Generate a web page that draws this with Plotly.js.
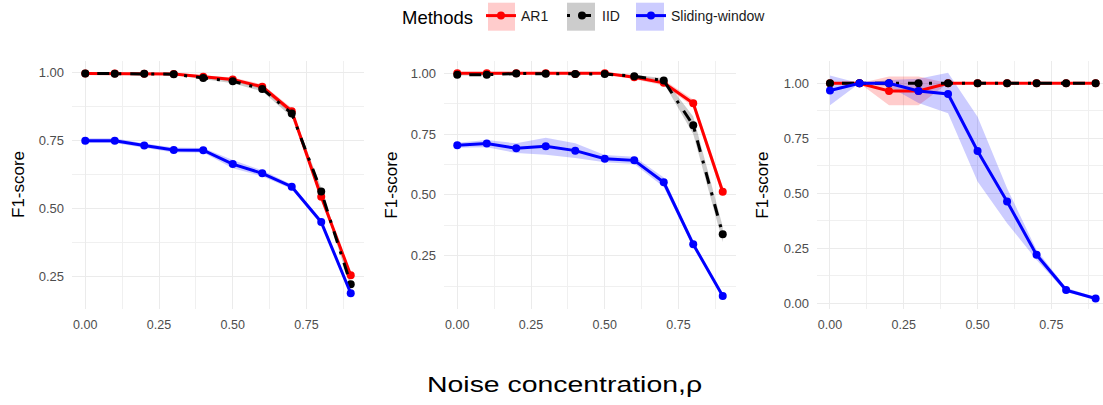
<!DOCTYPE html>
<html>
<head>
<meta charset="utf-8">
<script src="https://cdn.plot.ly/plotly-3.0.1.min.js"></script>
<style>html,body{margin:0;padding:0;background:#fff;}#chart{width:1103px;height:405px;}</style>
</head>
<body>
<div id="chart"></div>
<script>
// ---- data ----
const rho = [0, 0.1, 0.2, 0.3, 0.4, 0.5, 0.6, 0.7, 0.8, 0.9];
const methods = ["AR1", "IID", "Sliding-window"];
const xTickVals = [0, 0.25, 0.5, 0.75];
const xMinorVals = [0.125, 0.375, 0.625, 0.875];
const yTickVals = [0, 0.25, 0.5, 0.75, 1.0];
const yMinorVals = [0.125, 0.375, 0.625, 0.875];

// panel 1
const p1_ar1    = [0.996, 0.996, 0.995, 0.994, 0.984, 0.974, 0.947, 0.857, 0.543, 0.255];
const p1_ar1_lo = [0.993, 0.993, 0.992, 0.991, 0.979, 0.967, 0.938, 0.845, 0.528, 0.245];
const p1_ar1_hi = [0.999, 0.999, 0.998, 0.997, 0.989, 0.981, 0.956, 0.869, 0.558, 0.265];
const p1_iid    = [0.996, 0.995, 0.995, 0.993, 0.979, 0.967, 0.939, 0.849, 0.562, 0.222];
const p1_iid_lo = [0.993, 0.992, 0.992, 0.990, 0.974, 0.960, 0.930, 0.836, 0.548, 0.212];
const p1_iid_hi = [0.999, 0.998, 0.998, 0.996, 0.984, 0.974, 0.948, 0.862, 0.576, 0.232];
const p1_sw     = [0.749, 0.749, 0.731, 0.715, 0.714, 0.663, 0.629, 0.580, 0.450, 0.189];
const p1_sw_lo  = [0.740, 0.740, 0.723, 0.706, 0.706, 0.648, 0.618, 0.572, 0.440, 0.184];
const p1_sw_hi  = [0.758, 0.758, 0.739, 0.724, 0.722, 0.678, 0.640, 0.588, 0.460, 0.194];

// panel 2
const p2_ar1    = [1.000, 1.000, 1.000, 1.000, 0.997, 1.000, 0.984, 0.961, 0.877, 0.513];
const p2_ar1_lo = [0.998, 0.998, 0.998, 0.998, 0.994, 0.998, 0.976, 0.950, 0.862, 0.493];
const p2_ar1_hi = [1.000, 1.000, 1.000, 1.000, 1.000, 1.000, 0.992, 0.972, 0.892, 0.533];
const p2_iid    = [0.994, 0.994, 0.999, 0.998, 0.997, 0.997, 0.988, 0.970, 0.786, 0.338];
const p2_iid_lo = [0.991, 0.991, 0.997, 0.996, 0.995, 0.995, 0.982, 0.960, 0.750, 0.305];
const p2_iid_hi = [0.997, 0.997, 1.000, 1.000, 0.999, 0.999, 0.994, 0.980, 0.822, 0.370];
const p2_sw     = [0.704, 0.711, 0.692, 0.700, 0.682, 0.649, 0.642, 0.552, 0.297, 0.084];
const p2_sw_lo  = [0.694, 0.696, 0.672, 0.665, 0.652, 0.634, 0.627, 0.532, 0.287, 0.079];
const p2_sw_hi  = [0.714, 0.726, 0.712, 0.735, 0.712, 0.664, 0.657, 0.572, 0.307, 0.089];

// panel 3
const p3_ar1    = [1.000, 1.000, 0.965, 0.965, 1.000, 1.000, 1.000, 1.000, 1.000, 1.000];
const p3_ar1_lo = [1.000, 1.000, 0.900, 0.900, 1.000, 1.000, 1.000, 1.000, 1.000, 1.000];
const p3_ar1_hi = [1.000, 1.000, 1.030, 1.030, 1.000, 1.000, 1.000, 1.000, 1.000, 1.000];
const p3_iid    = [1.000, 1.000, 1.000, 1.000, 1.000, 1.000, 1.000, 1.000, 1.000, 1.000];
const p3_iid_lo = [1.000, 1.000, 1.000, 1.000, 1.000, 1.000, 1.000, 1.000, 1.000, 1.000];
const p3_iid_hi = [1.000, 1.000, 1.000, 1.000, 1.000, 1.000, 1.000, 1.000, 1.000, 1.000];
const p3_sw     = [0.967, 1.000, 1.000, 0.965, 0.951, 0.692, 0.462, 0.220, 0.060, 0.022];
const p3_sw_lo  = [0.900, 1.000, 0.985, 0.910, 0.864, 0.553, 0.364, 0.197, 0.050, 0.017];
const p3_sw_hi  = [1.035, 1.000, 1.015, 1.020, 1.048, 0.848, 0.523, 0.242, 0.070, 0.027];

// ---- styles ----
const lineColors = {"AR1": "#FF0000", "IID": "#000000", "Sliding-window": "#0000FF"};
const bandColors = {"AR1": "rgba(255,0,0,0.2)", "IID": "rgba(0,0,0,0.2)", "Sliding-window": "rgba(0,0,255,0.2)"};
const dashes = {"AR1": "solid", "IID": "3px,9px,12px,9px", "Sliding-window": "solid"};
const legendIds = {"AR1": "legend", "IID": "legend2", "Sliding-window": "legend3"};
const FONT = "Liberation Sans, Arial, Helvetica, sans-serif";

const panels = [
  {ax: "", series: {"AR1": [p1_ar1, p1_ar1_lo, p1_ar1_hi], "IID": [p1_iid, p1_iid_lo, p1_iid_hi], "Sliding-window": [p1_sw, p1_sw_lo, p1_sw_hi]}},
  {ax: "2", series: {"AR1": [p2_ar1, p2_ar1_lo, p2_ar1_hi], "IID": [p2_iid, p2_iid_lo, p2_iid_hi], "Sliding-window": [p2_sw, p2_sw_lo, p2_sw_hi]}},
  {ax: "3", series: {"AR1": [p3_ar1, p3_ar1_lo, p3_ar1_hi], "IID": [p3_iid, p3_iid_lo, p3_iid_hi], "Sliding-window": [p3_sw, p3_sw_lo, p3_sw_hi]}}
];

const traces = [];
panels.forEach((p, pi) => {
  const xa = "x" + p.ax, ya = "y" + p.ax;
  methods.forEach(m => {
    const [mid, lo, hi] = p.series[m];
    traces.push({
      type: "scatter", mode: "lines", xaxis: xa, yaxis: ya,
      x: rho.concat(rho.slice().reverse()),
      y: hi.concat(lo.slice().reverse()),
      fill: "toself", fillcolor: bandColors[m],
      line: {width: 0, color: "rgba(0,0,0,0)"},
      hoverinfo: "skip", showlegend: false
    });
  });
  methods.forEach(m => {
    const [mid] = p.series[m];
    traces.push({
      type: "scatter", mode: "lines+markers", xaxis: xa, yaxis: ya,
      x: rho, y: mid, name: m, legendgroup: m, legend: legendIds[m],
      showlegend: pi === 0,
      line: {color: lineColors[m], width: 3, dash: dashes[m]},
      marker: {color: lineColors[m], size: 8}
    });
  });
});

const W = 1103, H = 405;
const yDom = [1 - 309 / H, 1 - 61 / H];
function gridBits() {
  return {
    showgrid: true, gridcolor: "#EBEBEB", gridwidth: 1,
    zeroline: false, showline: false, ticks: "", tickformat: ".2f", fixedrange: true
  };
}
function xAxis(dom, range) {
  return Object.assign(gridBits(), {
    domain: dom, range: range, tickmode: "array", tickvals: xTickVals,
    minor: {tickmode: "array", tickvals: xMinorVals, showgrid: true, gridcolor: "#F0F0F0", gridwidth: 1},
    tickfont: {family: FONT, size: 12.5, color: "#4D4D4D"}, ticklabelstandoff: 6
  });
}
function yAxis(range) {
  return Object.assign(gridBits(), {
    domain: yDom, range: range, tickmode: "array", tickvals: yTickVals,
    minor: {tickmode: "array", tickvals: yMinorVals, showgrid: true, gridcolor: "#F0F0F0", gridwidth: 1},
    tickfont: {family: FONT, size: 13, color: "#4D4D4D"}, ticklabelstandoff: 7
  });
}
function legendBox(x, withTitle) {
  const L = {
    orientation: "h", x: x, xanchor: "left", y: 1, yanchor: "top",
    bgcolor: "rgba(0,0,0,0)", itemwidth: 30,
    font: {family: FONT, size: 14, color: "#1A1A1A"},
    itemclick: false, itemdoubleclick: false
  };
  if (withTitle) L.title = {text: "Methods", side: "left", font: {family: FONT, size: 18.5, color: "#000000"}};
  return L;
}
function keyRect(x0, x1, m) {
  return {type: "rect", xref: "paper", yref: "paper", x0: x0 / W, x1: x1 / W, y0: 1 - 30.7 / H, y1: 1 - 2.7 / H,
          fillcolor: bandColors[m], line: {width: 0}, layer: "below"};
}
function yTitle(xpx) {
  return {text: "F1-score", xref: "paper", yref: "paper", x: xpx / W, y: 1 - 185 / H, textangle: -90,
          showarrow: false, xanchor: "center", yanchor: "middle", font: {family: FONT, size: 17, color: "#000000"}};
}

const layout = {
  width: W, height: H,
  margin: {l: 0, r: 0, t: 0, b: 0},
  paper_bgcolor: "#FFFFFF", plot_bgcolor: "#FFFFFF",
  font: {family: FONT, color: "#000000"},
  xaxis: Object.assign(xAxis([72 / W, 364 / W], [-0.045, 0.945]), {anchor: "y"}),
  xaxis2: Object.assign(xAxis([444 / W, 736 / W], [-0.045, 0.945]), {anchor: "y2"}),
  xaxis3: Object.assign(xAxis([817 / W, 1], [-0.044, 0.925]), {anchor: "y3"}),
  yaxis: Object.assign(yAxis([0.131, 1.0415]), {anchor: "x"}),
  yaxis2: Object.assign(yAxis([0.0308, 1.0506]), {anchor: "x2"}),
  yaxis3: Object.assign(yAxis([-0.026, 1.101]), {anchor: "x3"}),
  showlegend: true,
  legend: legendBox(400 / W, true),
  legend2: legendBox(562 / W, false),
  legend3: legendBox(631 / W, false),
  annotations: [
    yTitle(18), yTitle(390.7), yTitle(761.7),
    {text: "Noise concentration,ρ", xref: "paper", yref: "paper", x: 564 / W, y: 1 - 384 / H,
     showarrow: false, xanchor: "center", yanchor: "middle", font: {family: FONT, size: 22, color: "#000000"}}
  ],
  shapes: [
    keyRect(488, 515, "AR1"),
    keyRect(567, 595, "IID"),
    keyRect(636, 664, "Sliding-window")
  ]
};

Plotly.newPlot("chart", traces, layout, {displayModeBar: false, staticPlot: true}).then(gd => {
  try {
    gd.querySelectorAll(".annotation-text").forEach(t => {
      if (t.textContent.indexOf("Noise") === 0) {
        t.setAttribute("textLength", "275");
        t.setAttribute("lengthAdjust", "spacingAndGlyphs");
      }
    });
  } catch (e) {}
});
</script>
</body>
</html>
